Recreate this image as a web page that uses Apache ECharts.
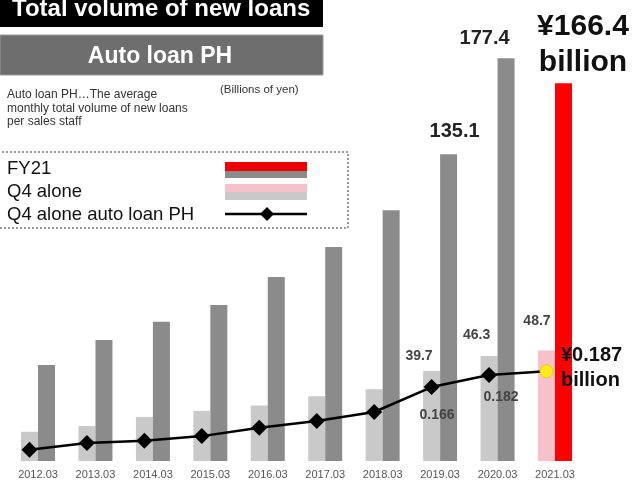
<!DOCTYPE html>
<html>
<head>
<meta charset="utf-8">
<script src="https://cdn.jsdelivr.net/npm/echarts@6/dist/echarts.min.js"></script>
<style>
  html, body { margin: 0; padding: 0; background: #fff; }
  #chart { width: 633px; height: 482px; }
</style>
</head>
<body>
<div id="chart"></div>
<script>
// Fiscal year-end categories
const categories = ['2012.03', '2013.03', '2014.03', '2015.03', '2016.03',
                    '2017.03', '2018.03', '2019.03', '2020.03', '2021.03'];
// Full-year total volume of new loans (billions of yen)
const fyValues = [42.3, 53.3, 61.3, 68.7, 81.1, 94.3, 110.5, 135.1, 177.4, 166.4];
// Q4 alone volume (billions of yen)
const q4Values = [12.9, 15.4, 19.4, 22.1, 24.4, 28.5, 31.6, 39.7, 46.3, 48.7];
// Q4 alone auto loan PH (billions of yen per sales staff)
const phValues = [0.083, 0.092, 0.095, 0.101, 0.112, 0.121, 0.133, 0.166, 0.182, 0.187];

const FONT = 'Liberation Sans, Arial, sans-serif';
const DARK = '#8b8b8b', LIGHT = '#c9c9c9', RED = '#ff0000', PINK = '#f6c1cb';
const last = categories.length - 1;

// label placement per data point: [dx, dy] from the mark's anchor
const fyLabels = {
  7: { offset: [6, -22.6], fontSize: 20 },
  8: { offset: [-21.4, -20.3], fontSize: 20 },
  9: { offset: [19.5, -39], fontSize: 30, lineHeight: 36, yen: true }
};
const q4Labels = {
  7: [-12.6, -15],
  8: [-12.5, -21],
  9: [-9.5, -29.5]
};
const phLabels = {
  7: { offset: [5.4, 36] },
  8: { offset: [12, 30] },
  9: { offset: [14.5, 4], yen: true }
};

const fyData = fyValues.map((v, i) => {
  const d = { value: v, itemStyle: { color: i === last ? RED : DARK } };
  const l = fyLabels[i];
  if (l) {
    d.label = {
      show: true, position: 'top', distance: 0, verticalAlign: 'middle',
      offset: l.offset, fontSize: l.fontSize, fontWeight: 'bold', fontFamily: FONT,
      color: l.yen ? '#111' : '#222', lineHeight: l.lineHeight || l.fontSize,
      formatter: l.yen ? ('¥' + v.toFixed(1) + '\nbillion') : v.toFixed(1)
    };
  }
  return d;
});

const q4Data = q4Values.map((v, i) => {
  const d = { value: v, itemStyle: { color: i === last ? PINK : LIGHT } };
  const o = q4Labels[i];
  if (o) {
    d.label = {
      show: true, position: 'top', distance: 0, verticalAlign: 'middle',
      offset: o, fontSize: 14, fontWeight: 'bold', fontFamily: FONT, color: '#444',
      formatter: v.toFixed(1)
    };
  }
  return d;
});

const phData = phValues.map((v, i) => {
  const d = { value: v };
  if (i === last) {
    d.symbol = 'circle';
    d.symbolSize = 13;
    d.itemStyle = { color: '#ffec1a', borderColor: '#e6d200', borderWidth: 1 };
  }
  const l = phLabels[i];
  if (l) {
    d.label = l.yen ? {
      show: true, position: 'top', distance: 0, verticalAlign: 'middle', align: 'left',
      offset: l.offset, fontSize: 20, lineHeight: 25, fontWeight: 'bold', fontFamily: FONT,
      color: '#111', formatter: '¥' + v.toFixed(3) + '\nbillion'
    } : {
      show: true, position: 'top', distance: 0, verticalAlign: 'middle',
      offset: l.offset, fontSize: 14, fontWeight: 'bold', fontFamily: FONT, color: '#444',
      formatter: v.toFixed(3)
    };
  }
  return d;
});

const chart = echarts.init(document.getElementById('chart'), null, { renderer: 'canvas' });

const legendX = 225, legendW = 82;

chart.setOption({
  animation: false,
  backgroundColor: '#fff',
  grid: [
    { left: 9.3, width: 574.4, top: 7, height: 454 },
    // the line sits over the left (Q4) bar of each pair
    { left: 0.8, width: 574.4, top: 7, height: 454 }
  ],
  xAxis: [
    {
      type: 'category', data: categories, gridIndex: 0,
      axisLine: { show: false }, axisTick: { show: false },
      axisLabel: { fontSize: 11, color: '#555', margin: 8, fontFamily: FONT }
    },
    { type: 'category', data: categories, gridIndex: 1, show: false }
  ],
  yAxis: [
    { type: 'value', gridIndex: 0, min: 0, max: 200, show: false },
    { type: 'value', gridIndex: 1, min: 0.068, max: 0.67, show: false }
  ],
  series: [
    {
      name: 'Q4 alone', type: 'bar', xAxisIndex: 0, yAxisIndex: 0,
      barWidth: 17, barGap: '0%', data: q4Data
    },
    {
      name: 'FY21', type: 'bar', xAxisIndex: 0, yAxisIndex: 0,
      barWidth: 17, barGap: '0%', data: fyData
    },
    {
      name: 'Q4 alone auto loan PH', type: 'line', xAxisIndex: 1, yAxisIndex: 1,
      symbol: 'diamond', symbolSize: 16,
      lineStyle: { color: '#000', width: 2.5 },
      itemStyle: { color: '#000' },
      data: phData, z: 5
    }
  ],
  graphic: [
    // header bars
    { type: 'rect', shape: { x: 0, y: 0, width: 323, height: 27 }, style: { fill: '#000' } },
    { type: 'text', x: 12, y: 9, style: {
        text: 'Total volume of new loans', fill: '#fff', font: 'bold 24px ' + FONT,
        verticalAlign: 'middle' } },
    { type: 'rect', shape: { x: 0, y: 35, width: 323, height: 40 },
      style: { fill: '#6e6e6e', stroke: '#9a9a9a', lineWidth: 1 } },
    { type: 'text', x: 160, y: 57, style: {
        text: 'Auto loan PH', fill: '#fff', font: 'bold 23px ' + FONT,
        align: 'center', verticalAlign: 'middle' } },
    // note and unit
    { type: 'text', x: 7, y: 88, style: {
        text: 'Auto loan PH…The average\nmonthly total volume of new loans\nper sales staff',
        fill: '#333', font: '12px ' + FONT, lineHeight: 13.5 } },
    { type: 'text', x: 220, y: 84, style: {
        text: '(Billions of yen)', fill: '#333', font: '11.5px ' + FONT } },
    // legend box
    { type: 'rect', shape: { x: -2, y: 152, width: 350, height: 76 },
      style: { fill: 'none', stroke: '#777', lineWidth: 1.5, lineDash: [2, 2] } },
    { type: 'text', x: 7, y: 169, style: { text: 'FY21', fill: '#111',
        font: '18.5px ' + FONT, verticalAlign: 'middle' } },
    { type: 'text', x: 7, y: 192, style: { text: 'Q4 alone', fill: '#111',
        font: '18.5px ' + FONT, verticalAlign: 'middle' } },
    { type: 'text', x: 7, y: 215, style: { text: 'Q4 alone auto loan PH', fill: '#111',
        font: '18.5px ' + FONT, verticalAlign: 'middle' } },
    { type: 'rect', shape: { x: legendX, y: 162, width: legendW, height: 9 }, style: { fill: '#ee0000' } },
    { type: 'rect', shape: { x: legendX, y: 171, width: legendW, height: 7 }, style: { fill: DARK } },
    { type: 'rect', shape: { x: legendX, y: 184, width: legendW, height: 8 }, style: { fill: PINK } },
    { type: 'rect', shape: { x: legendX, y: 192, width: legendW, height: 8 }, style: { fill: LIGHT } },
    { type: 'line', shape: { x1: legendX, y1: 214, x2: legendX + legendW, y2: 214 },
      style: { stroke: '#000', lineWidth: 2.5 } },
    { type: 'polygon', shape: { points: [[267, 207], [274, 214], [267, 221], [260, 214]] },
      style: { fill: '#000' } }
  ]
});
</script>
</body>
</html>
